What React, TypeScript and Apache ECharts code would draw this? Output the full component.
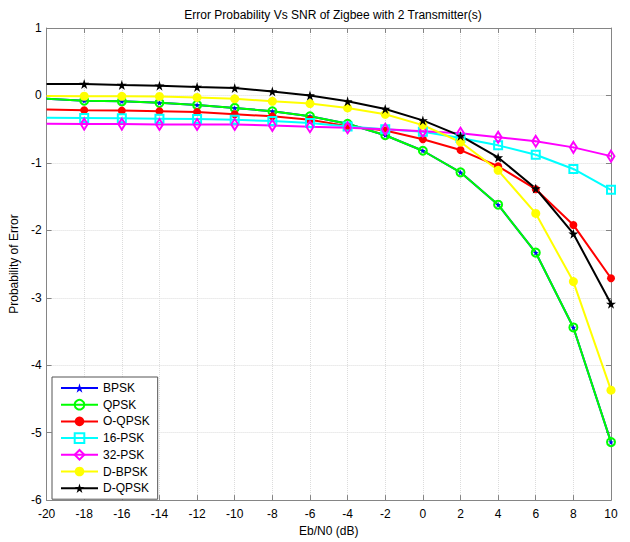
import React, { useEffect, useRef } from "react";
import * as echarts from "echarts";

const snrDb = [-20, -18, -16, -14, -12, -10, -8, -6, -4, -2, 0, 2, 4, 6, 8, 10];
const bpsk = [-0.05, -0.077, -0.087, -0.11, -0.14, -0.185, -0.235, -0.31, -0.42, -0.59, -0.82, -1.14, -1.62, -2.33, -3.44, -5.14];
const qpsk = [-0.05, -0.077, -0.087, -0.11, -0.14, -0.185, -0.235, -0.31, -0.42, -0.59, -0.82, -1.14, -1.62, -2.33, -3.44, -5.14];
const oqpsk = [-0.21, -0.22, -0.225, -0.235, -0.245, -0.28, -0.31, -0.36, -0.455, -0.52, -0.65, -0.81, -1.05, -1.39, -1.92, -2.71];
const psk16 = [-0.33, -0.335, -0.34, -0.345, -0.35, -0.36, -0.38, -0.41, -0.46, -0.5, -0.54, -0.63, -0.74, -0.88, -1.09, -1.4];
const psk32 = [-0.42, -0.425, -0.425, -0.43, -0.43, -0.43, -0.445, -0.465, -0.48, -0.5, -0.53, -0.56, -0.62, -0.68, -0.77, -0.9];
const dbpsk = [-0.01, -0.012, -0.013, -0.015, -0.03, -0.05, -0.087, -0.12, -0.185, -0.28, -0.44, -0.69, -1.11, -1.75, -2.76, -4.37];
const dqpsk = [0.17, 0.17, 0.155, 0.145, 0.125, 0.11, 0.06, 0.0, -0.087, -0.2, -0.37, -0.6, -0.92, -1.38, -2.05, -3.09];

const seriesNames = ["BPSK", "QPSK", "O-QPSK", "16-PSK", "32-PSK", "D-BPSK", "D-QPSK"];
const xTicks = { min: -20, max: 10, interval: 2 };
const yTicks = { min: -6, max: 1, interval: 1 };

const STAR = "path://M50,0 L61,35 L98,35 L68,57 L79,91 L50,70 L21,91 L32,57 L2,35 L39,35 Z";
const FONT = "Liberation Sans, Arial, sans-serif";

function pts(vals: number[]) {
  return vals.map((v, i) =>
    i === 0 ? { value: [snrDb[i], v], symbol: "none" } : { value: [snrDb[i], v] }
  );
}

export default function App() {
  const ref = useRef<HTMLDivElement>(null);
  useEffect(() => {
    if (!ref.current) return;
    const chart = echarts.init(ref.current, undefined, { renderer: "svg" });
    const mk = (
      name: string,
      vals: number[],
      color: string,
      symbol: string,
      size: any,
      item: any
    ) => ({
      name,
      type: "line",
      data: pts(vals),
      symbol,
      symbolSize: size,
      showAllSymbol: true,
      lineStyle: { color, width: 2 },
      itemStyle: item,
      emphasis: { disabled: true },
      z: 2,
    });
    const axisGray = "#858585";
    chart.setOption({
      animation: false,
      backgroundColor: "#fff",
      textStyle: { fontFamily: FONT },
      title: {
        text: "Error Probability Vs SNR of Zigbee with 2 Transmitter(s)",
        left: 328,
        textAlign: "center",
        top: 4,
        textStyle: { fontSize: 12, fontWeight: "normal", color: "#000", fontFamily: FONT },
      },
      grid: { left: 46, right: 19, top: 28, bottom: 39, containLabel: false },
      legend: {
        orient: "vertical",
        left: 52,
        top: 377,
        data: seriesNames,
        itemWidth: 37,
        itemHeight: 12,
        itemGap: 4.7,
        padding: [5, 8, 5, 8],
        backgroundColor: "#fff",
        borderColor: "#555",
        borderWidth: 1,
        borderRadius: 0,
        textStyle: { fontSize: 12, color: "#000", fontFamily: FONT },
        selectedMode: false,
      },
      xAxis: [
        {
          type: "value",
          ...xTicks,
          name: "Eb/N0 (dB)",
          nameLocation: "middle",
          nameGap: 22,
          nameTextStyle: { fontSize: 12, color: "#000" },
          axisLine: { show: true, onZero: false, lineStyle: { color: axisGray, width: 1 } },
          axisTick: { show: true, inside: true, length: 5, lineStyle: { color: axisGray } },
          axisLabel: { fontSize: 12, color: "#000", margin: 8 },
          splitLine: { show: true, lineStyle: { color: "#dcdcdc", type: "dotted", width: 1 } },
        },
        {
          type: "value",
          ...xTicks,
          position: "top",
          axisLine: { show: true, onZero: false, lineStyle: { color: axisGray, width: 1 } },
          axisTick: { show: true, inside: true, length: 5, lineStyle: { color: axisGray } },
          axisLabel: { show: false },
          splitLine: { show: false },
        },
      ],
      yAxis: [
        {
          type: "value",
          ...yTicks,
          name: "Probability of Error",
          nameLocation: "middle",
          nameRotate: 90,
          nameGap: 16,
          nameTextStyle: { fontSize: 12, color: "#000" },
          axisLine: { show: true, onZero: false, lineStyle: { color: axisGray, width: 1 } },
          axisTick: { show: true, inside: true, length: 5, lineStyle: { color: axisGray } },
          axisLabel: { fontSize: 12, color: "#000", margin: 5 },
          splitLine: { show: true, lineStyle: { color: "#dcdcdc", type: "dotted", width: 1 } },
        },
        {
          type: "value",
          ...yTicks,
          position: "right",
          axisLine: { show: true, onZero: false, lineStyle: { color: axisGray, width: 1 } },
          axisTick: { show: true, inside: true, length: 5, lineStyle: { color: axisGray } },
          axisLabel: { show: false },
          splitLine: { show: false },
        },
      ],
      series: [
        mk(seriesNames[0], bpsk, "#0000ff", STAR, 6, { color: "#0000ff" }),
        mk(seriesNames[1], qpsk, "#00ff00", "circle", 8, {
          color: "rgba(255,255,255,0)",
          borderColor: "#00ff00",
          borderWidth: 2,
        }),
        mk(seriesNames[2], oqpsk, "#ff0000", "circle", 8, { color: "#ff0000" }),
        mk(seriesNames[3], psk16, "#00ffff", "rect", 8, {
          color: "rgba(255,255,255,0)",
          borderColor: "#00ffff",
          borderWidth: 2,
        }),
        mk(seriesNames[4], psk32, "#ff00ff", "diamond", [7, 11], {
          color: "rgba(255,255,255,0)",
          borderColor: "#ff00ff",
          borderWidth: 2,
        }),
        mk(seriesNames[5], dbpsk, "#ffff00", "circle", 9, { color: "#ffff00" }),
        mk(seriesNames[6], dqpsk, "#000000", STAR, 10, { color: "#000000" }),
      ],
    });
    return () => chart.dispose();
  }, []);
  return (
    <div
      ref={ref}
      style={{ position: "absolute", left: 0, top: 0, width: 630, height: 542, background: "#fff" }}
    />
  );
}
